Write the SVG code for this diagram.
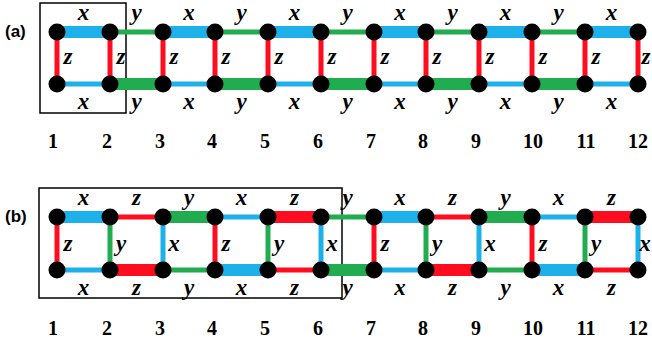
<svg xmlns="http://www.w3.org/2000/svg" width="652" height="343" viewBox="0 0 652 343">
<style>
.b{stroke:#1DB0E9}.g{stroke:#21AD4F}.r{stroke:#FF0D1E}
.k{stroke-width:12}.t{stroke-width:5}
.n{fill:#000}
.l{font-family:"Liberation Serif",serif;font-weight:bold;font-style:italic;font-size:23px;text-anchor:middle;fill:#000}
.num{font-family:"Liberation Serif",serif;font-weight:bold;font-size:20px;text-anchor:middle;fill:#000}
.p{font-family:"Liberation Sans",sans-serif;font-weight:bold;font-size:17px;fill:#000}
.box{fill:none;stroke:#000;stroke-width:1.5}
</style>
<rect width="652" height="343" fill="#fff"/>
<g id="frames">
<rect class="box" x="40" y="3" width="86" height="110"/>
<rect class="box" x="39" y="188" width="303" height="110"/>
<text class="p" x="5" y="37">(a)</text>
<text class="p" x="5" y="222">(b)</text>
</g>
<g id="connectors" stroke-linecap="butt">
<line class="b k" x1="57" y1="32" x2="110" y2="32"/>
<line class="g t" x1="110" y1="32" x2="163" y2="32"/>
<line class="b k" x1="163" y1="32" x2="215" y2="32"/>
<line class="g t" x1="215" y1="32" x2="268" y2="32"/>
<line class="b k" x1="268" y1="32" x2="321" y2="32"/>
<line class="g t" x1="321" y1="32" x2="374" y2="32"/>
<line class="b k" x1="374" y1="32" x2="426" y2="32"/>
<line class="g t" x1="426" y1="32" x2="479" y2="32"/>
<line class="b k" x1="479" y1="32" x2="532" y2="32"/>
<line class="g t" x1="532" y1="32" x2="585" y2="32"/>
<line class="b k" x1="585" y1="32" x2="638" y2="32"/>
<line class="b t" x1="57" y1="84" x2="110" y2="84"/>
<line class="g k" x1="110" y1="84" x2="163" y2="84"/>
<line class="b t" x1="163" y1="84" x2="215" y2="84"/>
<line class="g k" x1="215" y1="84" x2="268" y2="84"/>
<line class="b t" x1="268" y1="84" x2="321" y2="84"/>
<line class="g k" x1="321" y1="84" x2="374" y2="84"/>
<line class="b t" x1="374" y1="84" x2="426" y2="84"/>
<line class="g k" x1="426" y1="84" x2="479" y2="84"/>
<line class="b t" x1="479" y1="84" x2="532" y2="84"/>
<line class="g k" x1="532" y1="84" x2="585" y2="84"/>
<line class="b t" x1="585" y1="84" x2="638" y2="84"/>
<line class="r t" x1="57" y1="32" x2="57" y2="84"/>
<line class="r t" x1="110" y1="32" x2="110" y2="84"/>
<line class="r t" x1="163" y1="32" x2="163" y2="84"/>
<line class="r t" x1="215" y1="32" x2="215" y2="84"/>
<line class="r t" x1="268" y1="32" x2="268" y2="84"/>
<line class="r t" x1="321" y1="32" x2="321" y2="84"/>
<line class="r t" x1="374" y1="32" x2="374" y2="84"/>
<line class="r t" x1="426" y1="32" x2="426" y2="84"/>
<line class="r t" x1="479" y1="32" x2="479" y2="84"/>
<line class="r t" x1="532" y1="32" x2="532" y2="84"/>
<line class="r t" x1="585" y1="32" x2="585" y2="84"/>
<line class="r t" x1="638" y1="32" x2="638" y2="84"/>
<line class="b k" x1="57" y1="217" x2="110" y2="217"/>
<line class="r t" x1="110" y1="217" x2="163" y2="217"/>
<line class="g k" x1="163" y1="217" x2="215" y2="217"/>
<line class="b t" x1="215" y1="217" x2="268" y2="217"/>
<line class="r k" x1="268" y1="217" x2="321" y2="217"/>
<line class="g t" x1="321" y1="217" x2="374" y2="217"/>
<line class="b k" x1="374" y1="217" x2="426" y2="217"/>
<line class="r t" x1="426" y1="217" x2="479" y2="217"/>
<line class="g k" x1="479" y1="217" x2="532" y2="217"/>
<line class="b t" x1="532" y1="217" x2="585" y2="217"/>
<line class="r k" x1="585" y1="217" x2="638" y2="217"/>
<line class="b t" x1="57" y1="270" x2="110" y2="270"/>
<line class="r k" x1="110" y1="270" x2="163" y2="270"/>
<line class="g t" x1="163" y1="270" x2="215" y2="270"/>
<line class="b k" x1="215" y1="270" x2="268" y2="270"/>
<line class="r t" x1="268" y1="270" x2="321" y2="270"/>
<line class="g k" x1="321" y1="270" x2="374" y2="270"/>
<line class="b t" x1="374" y1="270" x2="426" y2="270"/>
<line class="r k" x1="426" y1="270" x2="479" y2="270"/>
<line class="g t" x1="479" y1="270" x2="532" y2="270"/>
<line class="b k" x1="532" y1="270" x2="585" y2="270"/>
<line class="r t" x1="585" y1="270" x2="638" y2="270"/>
<line class="r t" x1="57" y1="217" x2="57" y2="270"/>
<line class="g t" x1="110" y1="217" x2="110" y2="270"/>
<line class="b t" x1="163" y1="217" x2="163" y2="270"/>
<line class="r t" x1="215" y1="217" x2="215" y2="270"/>
<line class="g t" x1="268" y1="217" x2="268" y2="270"/>
<line class="b t" x1="321" y1="217" x2="321" y2="270"/>
<line class="r t" x1="374" y1="217" x2="374" y2="270"/>
<line class="g t" x1="426" y1="217" x2="426" y2="270"/>
<line class="b t" x1="479" y1="217" x2="479" y2="270"/>
<line class="r t" x1="532" y1="217" x2="532" y2="270"/>
<line class="g t" x1="585" y1="217" x2="585" y2="270"/>
<line class="b t" x1="638" y1="217" x2="638" y2="270"/>
</g>
<g id="edge-labels">
<text class="l" x="83.5" y="20">x</text><text class="l" x="136.5" y="20">y</text><text class="l" x="189" y="20">x</text><text class="l" x="241.5" y="20">y</text><text class="l" x="294.5" y="20">x</text><text class="l" x="347.5" y="20">y</text><text class="l" x="400" y="20">x</text><text class="l" x="452.5" y="20">y</text><text class="l" x="505.5" y="20">x</text><text class="l" x="558.5" y="20">y</text><text class="l" x="611.5" y="20">x</text>
<text class="l" x="83.5" y="109">x</text><text class="l" x="136.5" y="109">y</text><text class="l" x="189" y="109">x</text><text class="l" x="241.5" y="109">y</text><text class="l" x="294.5" y="109">x</text><text class="l" x="347.5" y="109">y</text><text class="l" x="400" y="109">x</text><text class="l" x="452.5" y="109">y</text><text class="l" x="505.5" y="109">x</text><text class="l" x="558.5" y="109">y</text><text class="l" x="611.5" y="109">x</text>
<text class="l" x="68" y="64">z</text><text class="l" x="121" y="64">z</text><text class="l" x="174" y="64">z</text><text class="l" x="226" y="64">z</text><text class="l" x="279" y="64">z</text><text class="l" x="332" y="64">z</text><text class="l" x="385" y="64">z</text><text class="l" x="437" y="64">z</text><text class="l" x="490" y="64">z</text><text class="l" x="543" y="64">z</text><text class="l" x="596" y="64">z</text><text class="l" x="646" y="64">z</text>
<text class="l" x="83.5" y="205">x</text><text class="l" x="136.5" y="205">z</text><text class="l" x="189" y="205">y</text><text class="l" x="241.5" y="205">x</text><text class="l" x="294.5" y="205">z</text><text class="l" x="347.5" y="205">y</text><text class="l" x="400" y="205">x</text><text class="l" x="452.5" y="205">z</text><text class="l" x="505.5" y="205">y</text><text class="l" x="558.5" y="205">x</text><text class="l" x="611.5" y="205">z</text>
<text class="l" x="83.5" y="295">x</text><text class="l" x="136.5" y="295">z</text><text class="l" x="189" y="295">y</text><text class="l" x="241.5" y="295">x</text><text class="l" x="294.5" y="295">z</text><text class="l" x="347.5" y="295">y</text><text class="l" x="400" y="295">x</text><text class="l" x="452.5" y="295">z</text><text class="l" x="505.5" y="295">y</text><text class="l" x="558.5" y="295">x</text><text class="l" x="611.5" y="295">z</text>
<text class="l" x="68" y="251">z</text><text class="l" x="121" y="251">y</text><text class="l" x="174" y="251">x</text><text class="l" x="226" y="251">z</text><text class="l" x="279" y="251">y</text><text class="l" x="332" y="251">x</text><text class="l" x="385" y="251">z</text><text class="l" x="437" y="251">y</text><text class="l" x="490" y="251">x</text><text class="l" x="543" y="251">z</text><text class="l" x="596" y="251">y</text><text class="l" x="645" y="251">x</text>
</g>
<g id="nodes-a">
<g id="a1"><circle class="n" cx="57" cy="32" r="8.5"/><circle class="n" cx="57" cy="84" r="8.5"/></g>
<g id="a2"><circle class="n" cx="110" cy="32" r="8.5"/><circle class="n" cx="110" cy="84" r="8.5"/></g>
<g id="a3"><circle class="n" cx="163" cy="32" r="8.5"/><circle class="n" cx="163" cy="84" r="8.5"/></g>
<g id="a4"><circle class="n" cx="215" cy="32" r="8.5"/><circle class="n" cx="215" cy="84" r="8.5"/></g>
<g id="a5"><circle class="n" cx="268" cy="32" r="8.5"/><circle class="n" cx="268" cy="84" r="8.5"/></g>
<g id="a6"><circle class="n" cx="321" cy="32" r="8.5"/><circle class="n" cx="321" cy="84" r="8.5"/></g>
<g id="a7"><circle class="n" cx="374" cy="32" r="8.5"/><circle class="n" cx="374" cy="84" r="8.5"/></g>
<g id="a8"><circle class="n" cx="426" cy="32" r="8.5"/><circle class="n" cx="426" cy="84" r="8.5"/></g>
<g id="a9"><circle class="n" cx="479" cy="32" r="8.5"/><circle class="n" cx="479" cy="84" r="8.5"/></g>
<g id="a10"><circle class="n" cx="532" cy="32" r="8.5"/><circle class="n" cx="532" cy="84" r="8.5"/></g>
<g id="a11"><circle class="n" cx="585" cy="32" r="8.5"/><circle class="n" cx="585" cy="84" r="8.5"/></g>
<g id="a12"><circle class="n" cx="638" cy="32" r="8.5"/><circle class="n" cx="638" cy="84" r="8.5"/></g>
</g>
<g id="nodes-b">
<g id="b1"><circle class="n" cx="57" cy="217" r="8.5"/><circle class="n" cx="57" cy="270" r="8.5"/></g>
<g id="b2"><circle class="n" cx="110" cy="217" r="8.5"/><circle class="n" cx="110" cy="270" r="8.5"/></g>
<g id="b3"><circle class="n" cx="163" cy="217" r="8.5"/><circle class="n" cx="163" cy="270" r="8.5"/></g>
<g id="b4"><circle class="n" cx="215" cy="217" r="8.5"/><circle class="n" cx="215" cy="270" r="8.5"/></g>
<g id="b5"><circle class="n" cx="268" cy="217" r="8.5"/><circle class="n" cx="268" cy="270" r="8.5"/></g>
<g id="b6"><circle class="n" cx="321" cy="217" r="8.5"/><circle class="n" cx="321" cy="270" r="8.5"/></g>
<g id="b7"><circle class="n" cx="374" cy="217" r="8.5"/><circle class="n" cx="374" cy="270" r="8.5"/></g>
<g id="b8"><circle class="n" cx="426" cy="217" r="8.5"/><circle class="n" cx="426" cy="270" r="8.5"/></g>
<g id="b9"><circle class="n" cx="479" cy="217" r="8.5"/><circle class="n" cx="479" cy="270" r="8.5"/></g>
<g id="b10"><circle class="n" cx="532" cy="217" r="8.5"/><circle class="n" cx="532" cy="270" r="8.5"/></g>
<g id="b11"><circle class="n" cx="585" cy="217" r="8.5"/><circle class="n" cx="585" cy="270" r="8.5"/></g>
<g id="b12"><circle class="n" cx="638" cy="217" r="8.5"/><circle class="n" cx="638" cy="270" r="8.5"/></g>
</g>
<g id="numbers">
<text class="num" x="53" y="148">1</text><text class="num" x="107" y="148">2</text><text class="num" x="160" y="148">3</text><text class="num" x="212" y="148">4</text><text class="num" x="265" y="148">5</text><text class="num" x="318" y="148">6</text><text class="num" x="371" y="148">7</text><text class="num" x="423" y="148">8</text><text class="num" x="476" y="148">9</text><text class="num" x="533" y="148">10</text><text class="num" x="586" y="148">11</text><text class="num" x="638" y="148">12</text>
<text class="num" x="53" y="335">1</text><text class="num" x="107" y="335">2</text><text class="num" x="160" y="335">3</text><text class="num" x="212" y="335">4</text><text class="num" x="265" y="335">5</text><text class="num" x="318" y="335">6</text><text class="num" x="371" y="335">7</text><text class="num" x="423" y="335">8</text><text class="num" x="476" y="335">9</text><text class="num" x="533" y="335">10</text><text class="num" x="586" y="335">11</text><text class="num" x="638" y="335">12</text>
</g>
</svg>
